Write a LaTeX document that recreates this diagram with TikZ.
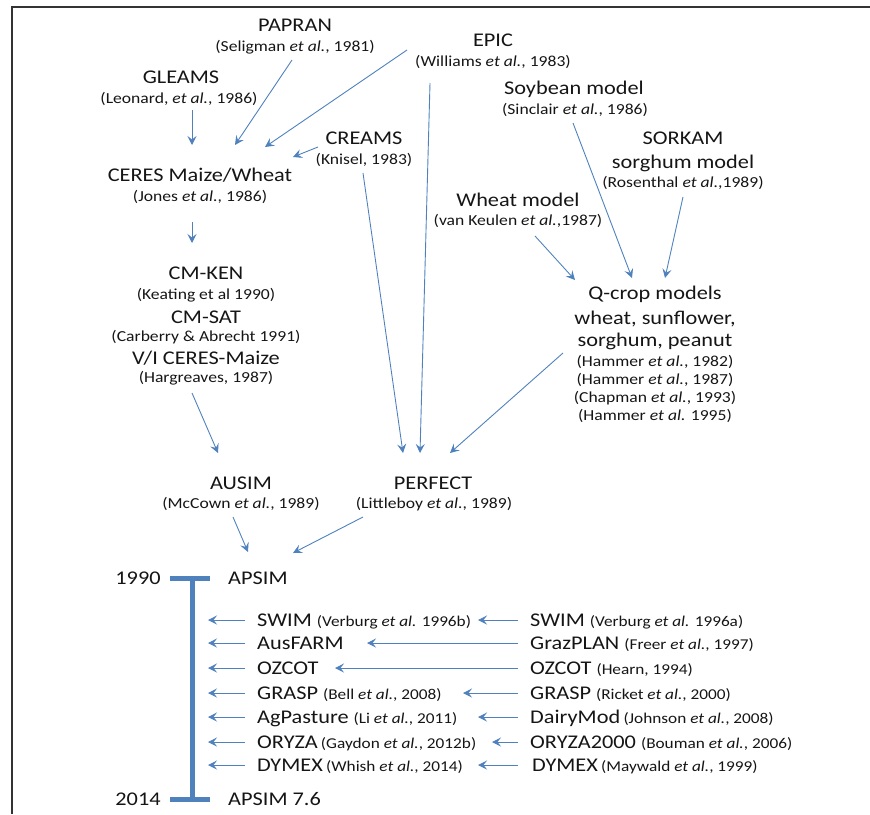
\documentclass[tikz,border=0pt]{standalone}
\usepackage{fontspec}
\setmainfont{Carlito}[FakeStretch=1.15]
\usetikzlibrary{arrows.meta}
\definecolor{ablue}{HTML}{4F81BD}
\definecolor{txt}{HTML}{151515}
\tikzset{
  hd/.style={font=\fontsize{19.4}{22}\selectfont, text=txt, inner sep=0pt, anchor=base},
  ct/.style={font=\fontsize{15.3}{17}\selectfont, text=txt, inner sep=0pt, anchor=base},
  rowlbl/.style={font=\fontsize{19.4}{22}\selectfont, text=txt, inner sep=0pt, anchor=base west},
  arr/.style={draw=ablue, line width=0.9pt, -{Stealth[length=9pt,width=9pt,inset=3.5pt]}},
  bar/.style={draw=ablue, line width=5pt},
}
\newcommand{\cts}[1]{{\fontsize{15}{17}\selectfont #1}}
\begin{document}
\begin{tikzpicture}[x=1pt,y=-1pt]
\useasboundingbox (0,0) rectangle (870,814);
\draw[line width=2pt, black!80] (12,814) -- (12,7) -- (870,7);

% --- upper part: model nodes ---
\node[hd] (papran) at (295,31) {PAPRAN};
\node[ct] (papranC) at (295,51) {(Seligman \emph{et al.}, 1981)};
\node[hd] (gleams) at (181,83) {GLEAMS};
\node[ct] (gleamsC) at (179,103) {(Leonard, \emph{et al.}, 1986)};
\node[hd] (epic) at (493,46) {EPIC};
\node[ct] (epicC) at (493,66) {(Williams \emph{et al.}, 1983)};
\node[hd] (soy) at (574,94) {Soybean model};
\node[ct] (soyC) at (575,114) {(Sinclair \emph{et al.}, 1986)};
\node[hd] (creams) at (364,144) {CREAMS};
\node[ct] (creamsC) at (364,164) {(Knisel, 1983)};
\node[hd] (sorkam) at (683,144) {SORKAM};
\node[hd] (sorkam2) at (683,168) {sorghum model};
\node[ct] (sorkamC) at (683,187) {(Rosenthal \emph{et al.},1989)};
\node[hd] (ceres) at (200,181) {CERES Maize/Wheat};
\node[ct] (ceresC) at (200,201) {(Jones \emph{et al.}, 1986)};
\node[hd] (wheat) at (518,206) {Wheat model};
\node[ct] (wheatC) at (518,225) {(van Keulen \emph{et al.},1987)};

\node[hd] (cmken) at (206,279) {CM-KEN};
\node[ct] (cmkenC) at (206,299) {(Keating et al 1990)};
\node[hd] (cmsat) at (206,323) {CM-SAT};
\node[ct] (cmsatC) at (206,341) {(Carberry \& Abrecht 1991)};
\node[hd] (vi) at (206,364) {V/I CERES-Maize};
\node[ct] (viC) at (206,382) {(Hargreaves, 1987)};

\node[hd] (qcrop) at (655,299) {Q-crop models};
\node[hd] (qcrop2) at (655,324) {wheat, sunflower,};
\node[hd] (qcrop3) at (655,346) {sorghum, peanut};
\node[ct] (qc1) at (655,366) {(Hammer \emph{et al.}, 1982)};
\node[ct] (qc2) at (655,384) {(Hammer \emph{et al.}, 1987)};
\node[ct] (qc3) at (655,402) {(Chapman \emph{et al.}, 1993)};
\node[ct] (qc4) at (655,420) {(Hammer \emph{et al.} 1995)};

\node[hd] (ausim) at (241,489) {AUSIM};
\node[ct] (ausimC) at (241,508) {(McCown \emph{et al.}, 1989)};
\node[hd] (perfect) at (433,489) {PERFECT};
\node[ct] (perfectC) at (434,508) {(Littleboy \emph{et al.}, 1989)};

% --- arrow end points ---
\coordinate (gleamsOut) at (192,110);  \coordinate (ceresInA) at (192,145);
\coordinate (papranOut) at (292,60);   \coordinate (ceresInB) at (235,145);
\coordinate (epicOutA) at (407,50);    \coordinate (ceresInC) at (265,147);
\coordinate (creamsOutA) at (318,147); \coordinate (ceresInD) at (293,157);
\coordinate (ceresOut) at (192,222);   \coordinate (cmkenIn) at (192,243);
\coordinate (viOut) at (192,393);      \coordinate (ausimIn) at (218,453);
\coordinate (creamsOutB) at (363,173); \coordinate (perfInA) at (403,453);
\coordinate (epicOutB) at (430,83);    \coordinate (perfInB) at (420,453);
\coordinate (qcropOut) at (563,353);   \coordinate (perfInC) at (450,453);
\coordinate (soyOut) at (573,123);     \coordinate (qcropInA) at (632,278);
\coordinate (sorkamOut) at (683,197);  \coordinate (qcropInB) at (665,278);
\coordinate (wheatOut) at (535,236);   \coordinate (qcropInC) at (575,280);
\coordinate (ausimOut) at (233,517);   \coordinate (apsimInA) at (248,552);
\coordinate (perfOut) at (363,517);    \coordinate (apsimInB) at (293,553);

\draw[arr] (gleamsOut) -- (ceresInA);
\draw[arr] (papranOut) -- (ceresInB);
\draw[arr] (epicOutA) -- (ceresInC);
\draw[arr] (creamsOutA) -- (ceresInD);
\draw[arr] (ceresOut) -- (cmkenIn);
\draw[arr] (viOut) -- (ausimIn);
\draw[arr] (creamsOutB) -- (perfInA);
\draw[arr] (epicOutB) -- (perfInB);
\draw[arr] (qcropOut) -- (perfInC);
\draw[arr] (soyOut) -- (qcropInA);
\draw[arr] (sorkamOut) -- (qcropInB);
\draw[arr] (wheatOut) -- (qcropInC);
\draw[arr] (ausimOut) -- (apsimInA);
\draw[arr] (perfOut) -- (apsimInB);

% --- timeline ---
\coordinate (tTop) at (192,578);
\coordinate (tBot) at (192,799);
\draw[bar] (tTop) -- (tBot);
\draw[bar] (170,578) -- (210,578);
\draw[bar] (170,799) -- (210,799);
\node[hd] (y1990) at (138,584) {1990};
\node[hd] (y2014) at (138,805) {2014};
\node[rowlbl] (apsim) at (228,584) {APSIM};
\node[rowlbl] (apsim76) at (228,805) {APSIM 7.6};

% rows
\node[rowlbl] (l1) at (257,626) {SWIM \cts{(Verburg \emph{et al.} 1996b)}};
\node[rowlbl] (l2) at (257,649) {AusFARM};
\node[rowlbl] (l3) at (257,674) {OZCOT};
\node[rowlbl] (l4) at (257,699) {GRASP \cts{(Bell \emph{et al.}, 2008)}};
\node[rowlbl] (l5) at (257,723) {AgPasture \cts{(Li \emph{et al.}, 2011)}};
\node[rowlbl] (l6) at (257,748) {ORYZA\,\cts{(Gaydon \emph{et al.}, 2012b)}};
\node[rowlbl] (l7) at (257,771) {DYMEX\,\cts{(Whish \emph{et al.}, 2014)}};

\node[rowlbl] (r1) at (530,626) {SWIM \cts{(Verburg \emph{et al.} 1996a)}};
\node[rowlbl] (r2) at (530,649) {GrazPLAN \cts{(Freer \emph{et al.}, 1997)}};
\node[rowlbl] (r3) at (530,674) {OZCOT \cts{(Hearn, 1994)}};
\node[rowlbl] (r4) at (530,699) {GRASP \cts{(Ricket \emph{et al.}, 2000)}};
\node[rowlbl] (r5) at (530,723) {DairyMod\,\cts{(Johnson \emph{et al.}, 2008)}};
\node[rowlbl] (r6) at (530,748) {ORYZA2000 \cts{(Bouman \emph{et al.}, 2006)}};
\node[rowlbl] (r7) at (532,771) {DYMEX\,\cts{(Maywald \emph{et al.}, 1999)}};

\foreach \i/\y/\tip in {1/620/478, 2/643/367, 3/668/335, 4/693/463, 5/717/478, 6/742/492, 7/765/478}{
  \coordinate (la\i) at (245,\y);
  \coordinate (lb\i) at (208,\y);
  \coordinate (ma\i) at (518,\y);
  \coordinate (mb\i) at (\tip,\y);
  \draw[arr] (la\i) -- (lb\i);
  \draw[arr] (ma\i) -- (mb\i);
}
\end{tikzpicture}
\end{document}
